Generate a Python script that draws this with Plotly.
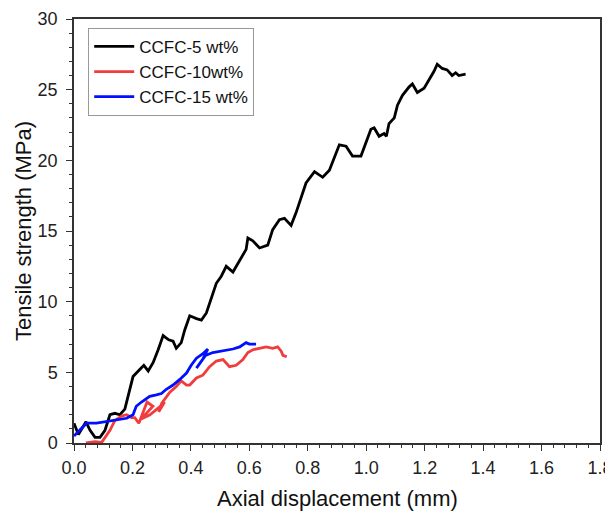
import plotly.graph_objects as go

# CCFC-5 wt%
x5 = [0.0, 0.015, 0.041, 0.055, 0.072, 0.089, 0.106, 0.123, 0.14, 0.157, 0.174, 0.185, 0.202, 0.225, 0.239,
      0.254, 0.271, 0.288, 0.305, 0.324, 0.339, 0.35, 0.367, 0.379, 0.396, 0.419, 0.436, 0.453, 0.464, 0.487,
      0.504, 0.521, 0.544, 0.567, 0.589, 0.595, 0.612, 0.635, 0.663, 0.68, 0.703, 0.72, 0.743, 0.76, 0.771,
      0.794, 0.823, 0.851, 0.874, 0.897, 0.908, 0.931, 0.953, 0.982, 0.999, 1.016, 1.027, 1.044, 1.061, 1.069,
      1.078, 1.096, 1.107, 1.124, 1.147, 1.158, 1.175, 1.198, 1.215, 1.232, 1.243, 1.26, 1.277, 1.294, 1.306,
      1.317, 1.34]
y5 = [1.4, 0.6, 1.5, 0.9, 0.4, 0.4, 0.9, 2.0, 2.1, 2.0, 2.4, 3.3, 4.7, 5.2, 5.5,
      5.1, 5.7, 6.6, 7.6, 7.3, 7.2, 6.7, 7.1, 8.0, 9.0, 8.8, 8.7, 9.2, 9.9, 11.3,
      11.8, 12.5, 12.1, 12.9, 13.7, 14.5, 14.3, 13.8, 14.0, 15.1, 15.8, 15.9, 15.4, 16.3, 17.0,
      18.4, 19.2, 18.8, 19.3, 20.5, 21.1, 21.0, 20.3, 20.3, 21.2, 22.2, 22.3, 21.7, 21.9, 21.7,
      22.6, 23.0, 23.9, 24.6, 25.2, 25.4, 24.8, 25.1, 25.7, 26.3, 26.8, 26.5, 26.4, 26.0, 26.2,
      26.0, 26.1]

# CCFC-10wt%
x10 = [0.041, 0.072, 0.095, 0.106, 0.123, 0.14, 0.163, 0.18, 0.197, 0.208, 0.222, 0.25, 0.27, 0.23, 0.26,
       0.29, 0.31, 0.29, 0.30, 0.328, 0.35, 0.367, 0.385, 0.396, 0.419, 0.441, 0.464, 0.487, 0.51, 0.532,
       0.555, 0.578, 0.595, 0.612, 0.635, 0.658, 0.68, 0.697, 0.709, 0.715, 0.728]
y10 = [0.0, 0.1, 0.05, 0.35, 0.9, 1.6, 1.9, 2.0, 1.8, 1.8, 1.4, 2.9, 2.6, 1.7, 2.0,
       2.5, 2.9, 2.2, 2.8, 3.6, 4.0, 4.4, 4.1, 4.1, 4.6, 4.8, 5.4, 5.8, 5.9, 5.4,
       5.5, 5.9, 6.4, 6.6, 6.7, 6.8, 6.7, 6.8, 6.5, 6.2, 6.1]

# CCFC-15 wt%
x15 = [0.0, 0.015, 0.043, 0.077, 0.111, 0.145, 0.18, 0.202, 0.213, 0.231, 0.259, 0.282, 0.299, 0.316, 0.339,
       0.362, 0.385, 0.401, 0.419, 0.44, 0.458, 0.44, 0.419, 0.43, 0.45, 0.475, 0.51, 0.544, 0.567, 0.589,
       0.6, 0.623]
y15 = [0.5, 0.8, 1.4, 1.4, 1.5, 1.65, 1.75, 2.0, 2.6, 2.9, 3.3, 3.4, 3.5, 3.8, 4.1,
       4.5, 4.95, 5.5, 6.0, 6.3, 6.65, 5.9, 5.3, 5.7, 6.2, 6.4, 6.5, 6.65, 6.8, 7.1,
       7.0, 7.0]

x_title = "Axial displacement (mm)"
y_title = "Tensile strength (MPa)"

FONT = "Liberation Sans, Arial, sans-serif"

fig = go.Figure()
fig.add_trace(go.Scatter(x=x5, y=y5, mode="lines", name="CCFC-5 wt%",
                         line=dict(color="#000000", width=2.8)))
fig.add_trace(go.Scatter(x=x10, y=y10, mode="lines", name="CCFC-10wt%",
                         line=dict(color="#f03c3c", width=2.8)))
fig.add_trace(go.Scatter(x=x15, y=y15, mode="lines", name="CCFC-15 wt%",
                         line=dict(color="#0010ff", width=2.8)))

axis_common = dict(showgrid=False, zeroline=False, showline=True, linecolor="#333333", linewidth=1.5,
                   mirror=True, ticks="outside", ticklen=6, tickwidth=1.3, tickcolor="#333333",
                   automargin=False,
                   tickfont=dict(family=FONT, size=18, color="#222222"))

fig.update_xaxes(range=[0, 1.8], dtick=0.2, tickformat=".1f", ticklabelstandoff=2,
                 minor=dict(dtick=0.04, ticks="outside", ticklen=3, tickcolor="#333333"),
                 **axis_common)
fig.update_yaxes(range=[0, 30], dtick=5, ticklabelstandoff=5,
                 minor=dict(dtick=1, ticks="outside", ticklen=3, tickcolor="#333333"),
                 **axis_common)

fig.add_annotation(text=x_title, xref="paper", yref="paper", x=0.5, y=0, yshift=-55,
                   xanchor="center", yanchor="middle", showarrow=False,
                   font=dict(family=FONT, size=22, color="#111111"))
fig.add_annotation(text=y_title, xref="paper", yref="paper", x=0, xshift=-51, y=0.5,
                   xanchor="center", yanchor="middle", showarrow=False, textangle=-90,
                   font=dict(family=FONT, size=22, color="#111111"))

# page body adds an 8px offset; size the figure so the plot lands where the reference has it
fig.update_layout(
    width=605, height=506,
    margin=dict(l=66, r=13, t=11, b=71),
    paper_bgcolor="white", plot_bgcolor="white",
    legend=dict(x=0.027, y=0.979, xanchor="left", yanchor="top",
                bordercolor="#999999", borderwidth=1, bgcolor="white",
                font=dict(family=FONT, size=17, color="#111111"),
                tracegroupgap=0, itemwidth=40),
    showlegend=True,
)

fig.write_html("out.html")
